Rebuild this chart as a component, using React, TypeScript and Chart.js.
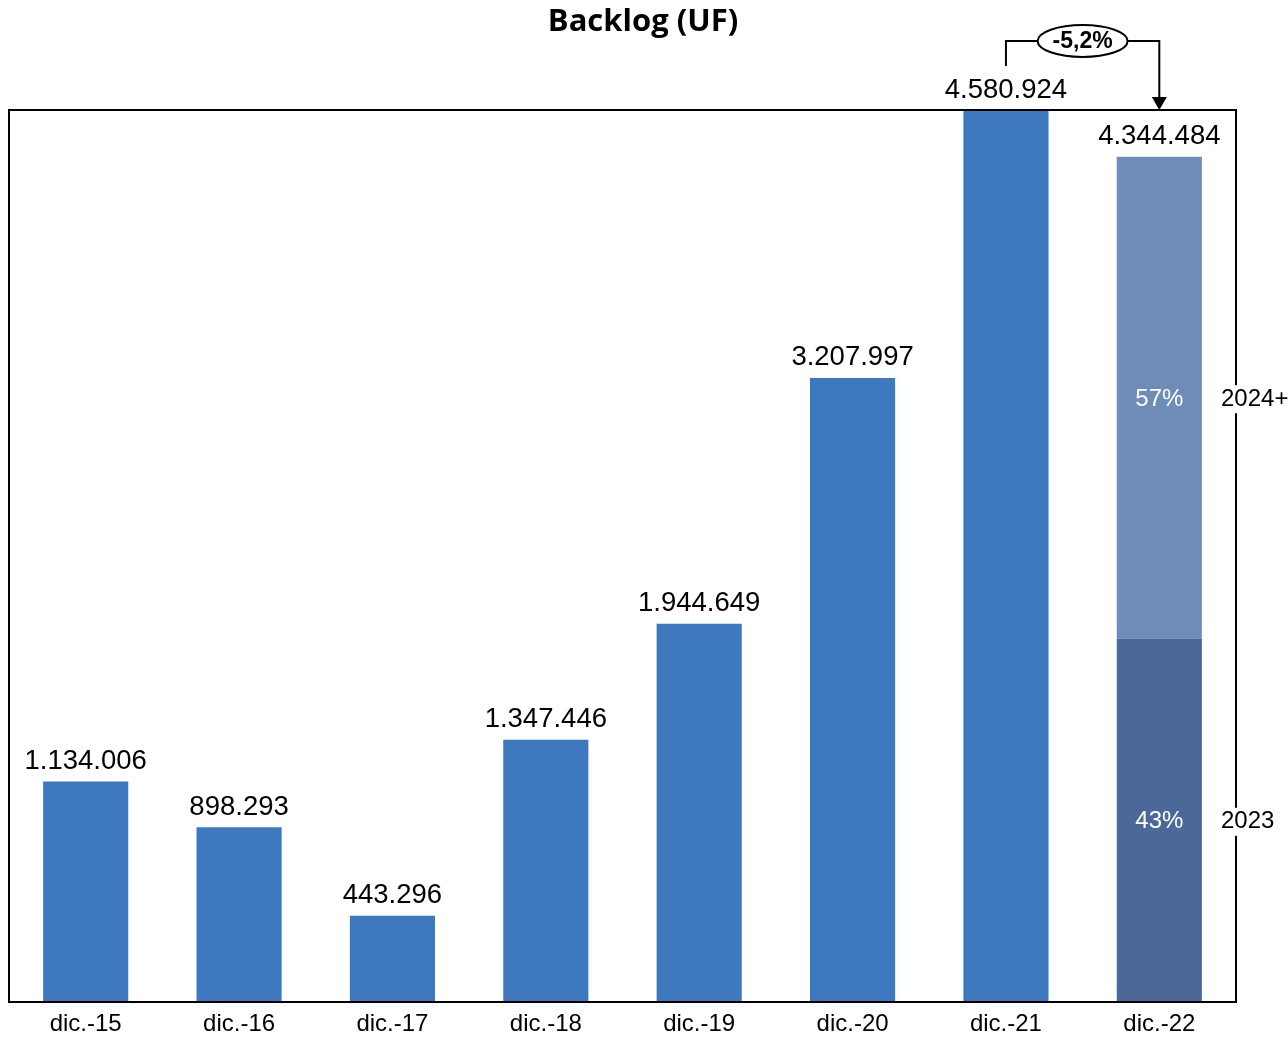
import React, { useEffect, useRef } from "react";
import { Chart, registerables } from "chart.js";

Chart.register(...registerables);

const categories = ["dic.-15", "dic.-16", "dic.-17", "dic.-18", "dic.-19", "dic.-20", "dic.-21", "dic.-22"];
const backlogValues = [1134006, 898293, 443296, 1347446, 1944649, 3207997, 4580924, null];
const seg2023 = [null, null, null, null, null, null, null, 1868128];
const seg2024 = [null, null, null, null, null, null, null, 2476356];
const segmentLabels = ["2023", "2024+"];
const titleText = "Backlog (UF)";
const yMax = 4585000;

const FONT = "'Liberation Sans', Arial, sans-serif";

function fmt(n: number): string {
  return Math.round(n).toString().replace(/\B(?=(\d{3})+(?!\d))/g, ".");
}

const overlay = {
  id: "overlay",
  afterDatasetsDraw(chart: any) {
    const ctx = chart.ctx as CanvasRenderingContext2D;
    const { left, right, top, bottom } = chart.chartArea;
    const xs = chart.scales.x;
    const ys = chart.scales.y;
    ctx.save();
    // frame
    ctx.strokeStyle = "#000";
    ctx.lineWidth = 2;
    ctx.strokeRect(left, top, right - left, bottom - top);

    // totals
    ctx.fillStyle = "#000";
    ctx.font = `27.5px ${FONT}`;
    ctx.textAlign = "center";
    ctx.textBaseline = "middle";
    const totals = categories.map((_, i) => (backlogValues[i] ?? 0) + (seg2023[i] ?? 0) + (seg2024[i] ?? 0));
    totals.forEach((t, i) => {
      const x = xs.getPixelForValue(i);
      const y = ys.getPixelForValue(t);
      ctx.fillText(fmt(t), x, y - 20);
    });

    // percentages + side labels
    const last = categories.length - 1;
    const tot = totals[last];
    const segs = [seg2023[last] ?? 0, seg2024[last] ?? 0];
    let base = 0;
    segs.forEach((v, k) => {
      const yMid = (ys.getPixelForValue(base) + ys.getPixelForValue(base + v)) / 2 + 1.5;
      base += v;
      ctx.font = `24px ${FONT}`;
      ctx.fillStyle = "#fff";
      ctx.textAlign = "center";
      ctx.fillText(Math.round((v / tot) * 100) + "%", xs.getPixelForValue(last), yMid);
      ctx.fillStyle = "#fff";
      ctx.fillRect(right - 16, yMid - 14, 70, 28);
      ctx.fillStyle = "#000";
      ctx.textAlign = "left";
      ctx.fillText(segmentLabels[k], right - 15, yMid);
    });

    // annotation bracket
    const x1 = xs.getPixelForValue(6);
    const x2 = xs.getPixelForValue(7);
    const yl = 41;
    const ex = (x1 + x2) / 2;
    const rx = 45;
    const ry = 16;
    ctx.strokeStyle = "#000";
    ctx.lineWidth = 2;
    ctx.beginPath();
    ctx.moveTo(x1, 66);
    ctx.lineTo(x1, yl);
    ctx.lineTo(ex - rx, yl);
    ctx.moveTo(ex + rx, yl);
    ctx.lineTo(x2, yl);
    ctx.lineTo(x2, top - 12);
    ctx.stroke();
    ctx.fillStyle = "#000";
    ctx.beginPath();
    ctx.moveTo(x2 - 7.5, top - 13);
    ctx.lineTo(x2 + 7.5, top - 13);
    ctx.lineTo(x2, top);
    ctx.closePath();
    ctx.fill();
    ctx.beginPath();
    ctx.ellipse(ex, yl, rx, ry, 0, 0, Math.PI * 2);
    ctx.fillStyle = "#fff";
    ctx.fill();
    ctx.stroke();
    const change = (totals[7] - totals[6]) / totals[6] * 100;
    ctx.fillStyle = "#000";
    ctx.font = `bold 23px ${FONT}`;
    ctx.textAlign = "center";
    ctx.fillText(change.toFixed(1).replace(".", ",") + "%", ex, yl + 1);

    // title
    ctx.font = "bold 31px 'Open Sans', sans-serif";
    ctx.fillText(titleText, 643, 22);
    ctx.restore();
  },
};

export default function App() {
  const ref = useRef<HTMLCanvasElement | null>(null);
  useEffect(() => {
    if (!ref.current) return;
    const chart = new Chart(ref.current, {
      type: "bar",
      data: {
        labels: categories,
        datasets: [
          { label: "Backlog", data: backlogValues as any, backgroundColor: "#3E78BF", barPercentage: 0.555, categoryPercentage: 1 },
          { label: segmentLabels[0], data: seg2023 as any, backgroundColor: "#4A6998", barPercentage: 0.555, categoryPercentage: 1 },
          { label: segmentLabels[1], data: seg2024 as any, backgroundColor: "#6E8CB8", barPercentage: 0.555, categoryPercentage: 1 },
        ],
      },
      options: {
        animation: false,
        responsive: false,
        maintainAspectRatio: false,
        layout: { padding: { left: 9, right: 52, top: 110, bottom: 0 } },
        plugins: { legend: { display: false }, tooltip: { enabled: false }, title: { display: false } },
        scales: {
          x: {
            stacked: true,
            grid: { display: false, drawTicks: false },
            border: { display: false },
            ticks: { color: "#000", font: { family: FONT, size: 24 }, padding: 8, maxRotation: 0 },
            afterFit: (s: any) => { s.height = 43; },
          },
          y: { stacked: true, display: false, min: 0, max: yMax },
        },
      },
      plugins: [overlay],
    });
    return () => chart.destroy();
  }, []);
  return (
    <div style={{ position: "absolute", left: 0, top: 0, width: 1288, height: 1045, background: "#fff" }}>
      <canvas ref={ref} width={1288} height={1045} style={{ width: 1288, height: 1045 }} />
    </div>
  );
}
